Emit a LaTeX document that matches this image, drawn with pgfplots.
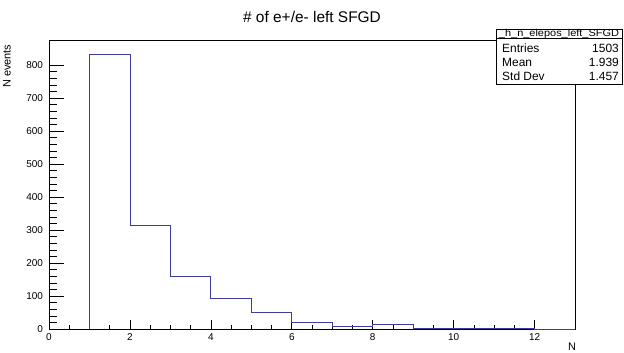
\documentclass[border=0pt]{standalone}
\usepackage{fontspec}
\setmainfont{Liberation Sans}
\usepackage{graphicx}
\usepackage{pgfplots}
\pgfplotsset{compat=1.18}
\definecolor{histblue}{RGB}{60,60,160}
\pgfplotsset{
  rootaxis/.style={
    scale only axis,
    width=526bp, height=289bp,
    xmin=0, xmax=13, ymin=0, ymax=876,
    tick align=inside,
    tick pos=left,
    /pgf/number format/assume math mode=true,
    /pgf/number format/1000 sep={},
    tick label style={font=\fontsize{10}{12}\selectfont},
    tick style={line width=0.6bp, black},
    clip=false,
  }
}
\begin{document}
\begin{tikzpicture}
% axis with x ticks
\begin{axis}[
  rootaxis,
  name=ax,
  axis line style={line width=0.8bp},
  xtick={0,2,...,12},
  ytick=\empty,
  minor x tick num=3,
  major tick length=9bp, minor tick length=4.5bp,
  xticklabel style={yshift=-1bp},
]
\addplot[color=histblue, line width=0.8bp, const plot mark left] coordinates {
  (1,0) (1,833) (2,314) (3,158) (4,92) (5,51) (6,20) (7,8) (8,13) (9,2) (10,1) (11,1) (12,0) (13,0)
};
\end{axis}
% overlay axis with y ticks
\begin{axis}[
  rootaxis,
  axis line style={draw=none},
  xtick=\empty,
  ytick={0,100,...,800},
  minor y tick num=4,
  major tick length=15bp, minor tick length=8bp,
  yticklabel style={xshift=-2.5bp},
]
\end{axis}
% title
\node[font=\fontsize{15.5}{17}\selectfont, anchor=center] at ([yshift=23bp]ax.north) {\# of e+/e- left SFGD};
% y label
\node[font=\fontsize{11}{12}\selectfont, rotate=90, anchor=east] at ([xshift=-42bp,yshift=-1bp]ax.north west) {N events};
% x label
\node[font=\fontsize{11}{12}\selectfont, anchor=center] at ([xshift=-3bp,yshift=-18bp]ax.south east) {N};
% stats box
\draw[fill=white, line width=0.6bp] ([xshift=-79bp,yshift=11bp]ax.north east) rectangle ([xshift=47bp,yshift=-44bp]ax.north east);
\draw[line width=0.6bp] ([xshift=-79bp,yshift=2bp]ax.north east) -- ([xshift=47bp,yshift=2bp]ax.north east);
\node[font=\fontsize{10}{11}\selectfont, inner sep=0pt, anchor=base] at ([xshift=-16bp,yshift=3.6bp]ax.north east) {\scalebox{1.1}[1]{\_h\_n\_elepos\_left\_SFGD}};
\begin{scope}[every node/.style={font=\fontsize{12}{13}\selectfont, inner sep=0pt}]
\node[anchor=west] at ([xshift=-73bp,yshift=-8bp]ax.north east) {Entries};
\node[anchor=west] at ([xshift=-73bp,yshift=-22bp]ax.north east) {Mean};
\node[anchor=west] at ([xshift=-73bp,yshift=-36bp]ax.north east) {Std Dev};
\node[anchor=east] at ([xshift=44bp,yshift=-8bp]ax.north east) {1503};
\node[anchor=east] at ([xshift=44bp,yshift=-22bp]ax.north east) {1.939};
\node[anchor=east] at ([xshift=44bp,yshift=-36bp]ax.north east) {1.457};
\end{scope}
\pgfresetboundingbox
\path[use as bounding box] ([xshift=-49bp,yshift=-24bp]ax.south west) rectangle ([xshift=49bp,yshift=40bp]ax.north east);
\end{tikzpicture}
\end{document}
